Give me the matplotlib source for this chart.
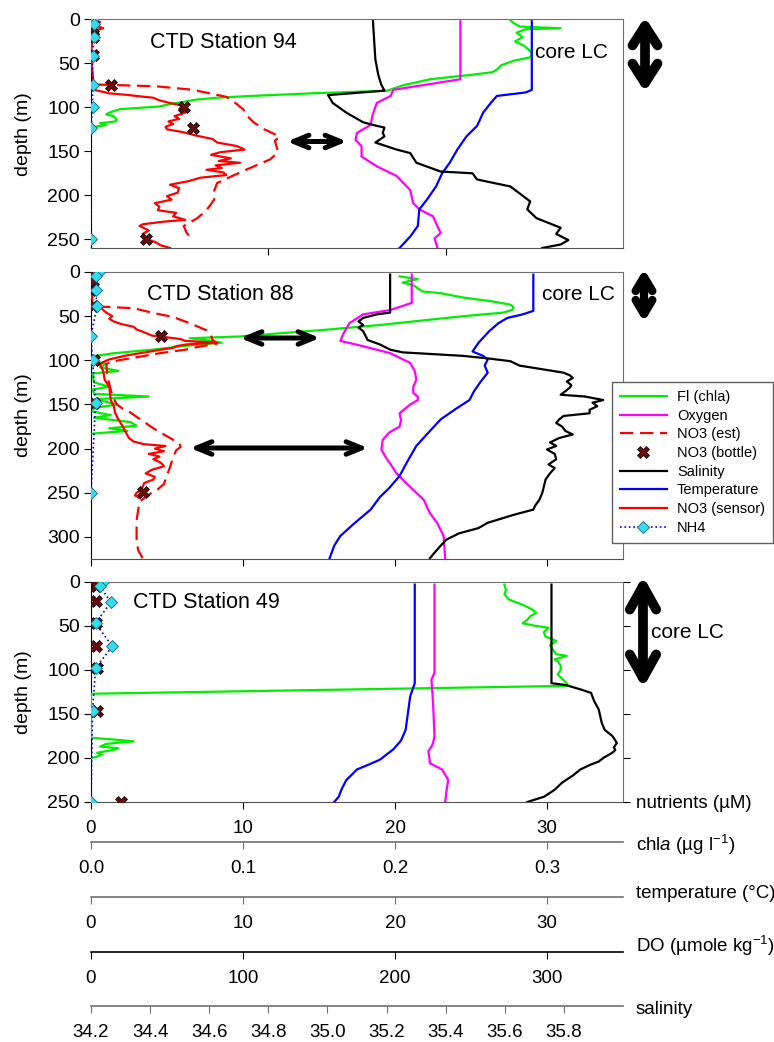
import matplotlib.pyplot as plt
from matplotlib.patches import FancyArrowPatch, ArrowStyle

plt.rcParams['font.family'] = ['Liberation Sans', 'DejaVu Sans']
plt.rcParams['mathtext.fontset'] = 'custom'
plt.rcParams['mathtext.rm'] = 'Liberation Sans'
plt.rcParams['mathtext.it'] = 'Liberation Sans:italic'

W, H = 774, 1042

# scale ranges shared by all three panels
nut_lim = (0, 35)
chl_lim = (0, 0.35)
temp_lim = (0, 35)
do_lim = (0, 350)
sal_lim = (34.2, 36.0)

# ---------------- CTD station 94 ----------------
st94_chl_depth = [1, 4, 8, 10, 11, 15, 20, 25, 30, 36, 40, 43, 47, 52, 57, 60, 63, 68, 75, 81,
                  84, 87, 89, 91, 93, 97, 99, 102, 106, 108, 110, 114, 116, 118, 120, 123]
st94_chl = [0.276, 0.278, 0.282, 0.309, 0.286, 0.280, 0.284, 0.279, 0.285, 0.289, 0.290, 0.289,
            0.278, 0.270, 0.267, 0.264, 0.250, 0.223, 0.205, 0.195, 0.145, 0.105, 0.083, 0.070,
            0.063, 0.050, 0.045, 0.019, 0.012, 0.010, 0.015, 0.017, 0.016, 0.006, 0.010, 0.000]

st94_no3s_depth = [0, 3, 6, 10, 13, 16, 20, 40, 60, 80, 84, 86, 88, 89, 92, 95, 98, 102, 106, 110,
                   113, 116, 119, 122, 125, 128, 132, 136, 140, 144, 148, 151, 154, 158, 161, 163,
                   166, 169, 171, 174, 177, 180, 184, 188, 192, 197, 201, 205, 209, 213, 217, 220,
                   224, 228, 230, 233, 235, 240, 244, 249, 253, 257, 260]
st94_no3s = [0.1, 0.6, 0.2, 0.8, 0.1, 0.5, 0.1, 0.0, 0.1, 0.2, 1.2, 2.5, 3.5, 4.1, 4.5, 5.2, 6.0,
             5.8, 6.2, 5.5, 5.8, 5.1, 5.4, 4.9, 5.0, 6.0, 6.9, 8.0, 8.3, 9.6, 10.1, 8.5, 7.9, 9.2,
             8.4, 9.8, 8.2, 8.6, 7.6, 8.7, 8.9, 7.2, 6.4, 5.2, 5.8, 5.7, 5.0, 5.3, 4.2, 4.5, 4.4,
             5.6, 5.4, 6.2, 4.8, 3.4, 3.2, 3.8, 3.4, 3.5, 4.2, 4.6, 5.2]

st94_no3e_depth = [74, 76, 80, 88, 95, 102, 110, 117, 125, 133, 138, 144, 151, 159, 165, 171, 178,
                   186, 195, 205, 217, 226, 235, 243, 251]
st94_no3e = [0.4, 4.3, 6.7, 8.9, 9.5, 10.0, 10.3, 10.7, 11.4, 12.4, 12.1, 12.2, 12.3, 11.8, 11.0,
             10.2, 9.3, 8.3, 8.1, 8.1, 7.6, 7.0, 6.1, 6.3, 6.7]

st94_bottle_depth = [0, 10, 20, 40, 75, 100, 124, 250]
st94_bottle_no3 = [0.1, 0.1, 0.1, 0.1, 1.3, 6.1, 6.7, 3.6]
st94_nh4_depth = [0, 5, 20, 42, 74, 99, 124, 250]
st94_nh4 = [0.1, 0.2, 0.2, 0.1, 0.1, 0.1, 0.0, 0.0]

st94_sal_depth = [2, 45, 63, 74, 81, 86, 95, 106, 117, 121, 123, 129, 133, 140, 148, 152, 163, 173,
                  175, 182, 190, 207, 216, 226, 237, 244, 251, 256, 260]
st94_sal = [35.154, 35.162, 35.172, 35.182, 35.193, 35.002, 35.018, 35.064, 35.121, 35.167,
            35.193, 35.187, 35.193, 35.162, 35.234, 35.280, 35.301, 35.383, 35.491, 35.506,
            35.619, 35.686, 35.676, 35.707, 35.789, 35.774, 35.815, 35.789, 35.727]

st94_do_depth = [2, 68, 80, 87, 95, 110, 120, 129, 137, 144, 156, 167, 178, 194, 209, 216, 224,
                 243, 249, 260]
st94_do = [243, 243, 199, 197, 188, 185, 184, 175, 174, 178, 178, 188, 201, 210, 212, 216, 225,
           230, 226, 228]

st94_temp_depth = [2, 80, 83, 87, 95, 106, 121, 133, 148, 163, 175, 190, 205, 216, 235, 247, 260]
st94_temp = [29.0, 29.0, 28.6, 26.7, 26.3, 25.8, 25.4, 24.7, 24.1, 23.6, 23.1, 22.7, 22.1, 21.6,
             21.5, 21.0, 20.3]

# ---------------- CTD station 88 ----------------
st88_chl_depth = [5, 8, 10, 12, 14, 16, 22, 24, 29, 33, 37, 40, 43, 46, 50, 54, 60, 65, 70, 73,
                  75, 77, 80, 84, 88, 92, 95, 100, 104, 108, 112, 115, 125, 130, 133, 138, 141,
                  144, 150, 154, 158, 162, 165, 170, 174, 177, 180, 183]
st88_chl = [0.203, 0.215, 0.210, 0.205, 0.210, 0.213, 0.218, 0.230, 0.245, 0.263, 0.276, 0.278,
            0.277, 0.271, 0.245, 0.223, 0.190, 0.157, 0.120, 0.098, 0.065, 0.075, 0.086, 0.060,
            0.040, 0.015, 0.003, 0.001, 0.010, 0.006, 0.018, 0.001, 0.002, 0.012, 0.001, 0.002,
            0.038, 0.003, 0.017, 0.002, 0.001, 0.013, 0.002, 0.026, 0.030, 0.012, 0.024, 0.001]

st88_no3s_depth = [0, 35, 39, 43, 46, 50, 53, 56, 59, 62, 65, 69, 72, 74, 76, 78, 80, 82, 84, 86,
                   88, 90, 92, 95, 99, 102, 105, 112, 122, 130, 137, 145, 152, 160, 167, 175, 182,
                   188, 192, 195, 197, 200, 203, 206, 209, 212, 216, 220, 224, 228, 232, 235, 239,
                   243, 247, 250, 253, 256]
st88_no3s = [0.0, 0.1, 0.6, 0.8, 1.0, 1.4, 1.2, 1.5, 2.0, 2.8, 3.0, 3.6, 4.0, 5.0, 5.9, 6.2, 8.3,
             6.3, 5.6, 5.4, 4.6, 3.9, 3.2, 2.2, 1.2, 0.8, 0.6, 0.8, 0.9, 1.2, 1.25, 1.3, 1.5, 1.6,
             1.8, 2.1, 2.3, 2.5, 2.8, 3.5, 4.9, 4.2, 4.8, 3.8, 4.5, 4.1, 4.6, 4.8, 4.0, 3.6, 4.2,
             4.1, 3.5, 3.4, 3.3, 3.0, 2.9, 3.2]

st88_no3e_depth = [39, 41, 46, 51, 58, 66, 72, 77, 81, 85, 88, 92, 96, 100, 104, 120, 140, 150,
                   155, 158, 164, 171, 177, 183, 188, 194, 198, 202, 210, 221, 230, 240, 246, 251,
                   256, 260, 270, 281, 295, 304, 315, 324]
st88_no3e = [0.4, 2.8, 4.0, 5.4, 6.5, 7.6, 7.9, 8.0, 8.3, 7.0, 6.2, 4.5, 3.2, 1.8, 1.0, 1.1, 1.4,
             1.7, 2.1, 2.5, 3.0, 3.6, 4.1, 4.7, 5.2, 5.8, 5.9, 5.6, 5.4, 5.2, 5.0, 4.8, 4.4, 3.9,
             3.5, 3.2, 3.1, 3.0, 3.0, 3.0, 3.1, 3.4]

st88_bottle_depth = [0, 10, 20, 38, 72, 100, 148, 249]
st88_bottle_no3 = [0.1, 0.1, 0.0, 0.1, 4.6, 0.2, 0.2, 3.4]
st88_nh4_depth = [0, 5, 20, 38, 72, 100, 148, 250]
st88_nh4 = [0.5, 0.3, 0.3, 0.4, 0.0, 0.1, 0.3, 0.0]

st88_sal_depth = [3, 46, 48, 52, 56, 60, 63, 67, 77, 82, 88, 91, 95, 98, 101, 106, 114, 117, 120,
                  124, 128, 131, 135, 139, 141, 145, 148, 152, 156, 160, 163, 167, 171, 175, 180,
                  184, 188, 193, 197, 201, 206, 212, 218, 222, 228, 235, 242, 250, 258, 265, 269,
                  275, 284, 290, 296, 303, 310, 318, 324]
st88_sal = [35.212, 35.212, 35.167, 35.121, 35.105, 35.121, 35.105, 35.121, 35.136, 35.177,
            35.213, 35.254, 35.460, 35.547, 35.619, 35.650, 35.799, 35.820, 35.830, 35.810,
            35.825, 35.820, 35.805, 35.789, 35.871, 35.933, 35.897, 35.913, 35.887, 35.887,
            35.799, 35.784, 35.774, 35.794, 35.805, 35.830, 35.784, 35.753, 35.774, 35.743,
            35.769, 35.774, 35.748, 35.769, 35.753, 35.738, 35.733, 35.727, 35.717, 35.702,
            35.697, 35.630, 35.542, 35.511, 35.445, 35.403, 35.383, 35.362, 35.347]

st88_do_depth = [3, 35, 43, 48, 58, 70, 78, 84, 92, 103, 112, 122, 130, 137, 141, 145, 150, 160,
                 168, 175, 182, 190, 201, 210, 220, 228, 240, 250, 258, 266, 273, 285, 299, 324]
st88_do = [211, 211, 197, 179, 170, 166, 164, 179, 197, 210, 213, 214, 212, 212, 215, 215, 210,
           203, 204, 203, 196, 192, 191, 194, 198, 201, 208, 214, 219, 221, 223, 228, 232, 233]

st88_temp_depth = [3, 44, 48, 52, 58, 67, 80, 90, 95, 99, 106, 114, 125, 135, 145, 155, 167, 180,
                   197, 215, 231, 245, 255, 269, 285, 299, 310, 324]
st88_temp = [29.1, 29.1, 28.4, 27.4, 26.8, 26.2, 25.5, 25.1, 25.8, 26.1, 25.9, 26.1, 25.6, 25.2,
             24.9, 24.0, 23.0, 22.3, 21.4, 20.8, 20.3, 19.6, 19.0, 18.4, 17.3, 16.4, 16.0, 15.7]

# ---------------- CTD station 49 ----------------
st49_chl_depth = [3, 9, 14, 20, 26, 31, 35, 39, 43, 47, 50, 52, 57, 62, 67, 72, 77, 82, 84, 88,
                  90, 95, 100, 105, 110, 115, 118, 127, 150, 177, 179, 181, 184, 187, 189, 191,
                  194, 196, 199, 200]
st49_chl = [0.272, 0.273, 0.272, 0.275, 0.284, 0.290, 0.293, 0.289, 0.287, 0.284, 0.293, 0.301,
            0.298, 0.299, 0.306, 0.302, 0.304, 0.306, 0.313, 0.305, 0.307, 0.309, 0.309, 0.307,
            0.310, 0.313, 0.314, 0.000, 0.000, 0.000, 0.015, 0.028, 0.010, 0.006, 0.018, 0.014,
            0.004, 0.007, 0.003, 0.000]

st49_bottle_depth = [0, 5, 22, 47, 73, 98, 147, 250]
st49_bottle_no3 = [0.3, 0.3, 0.3, 0.3, 0.3, 0.4, 0.4, 2.0]
st49_nh4_depth = [0, 5, 23, 47, 73, 98, 147, 250]
st49_nh4 = [0.8, 0.6, 1.3, 0.3, 1.4, 0.3, 0.1, 0.0]

st49_sal_depth = [3, 115, 117, 122, 126, 135, 145, 160, 168, 175, 180, 183, 188, 191, 194, 200,
                  204, 208, 213, 220, 228, 236, 244, 250]
st49_sal = [35.758, 35.758, 35.805, 35.856, 35.892, 35.902, 35.918, 35.928, 35.938, 35.964,
            35.974, 35.979, 35.969, 35.974, 35.964, 35.933, 35.918, 35.887, 35.856, 35.830,
            35.794, 35.769, 35.733, 35.676]

st49_do_depth = [3, 103, 111, 137, 175, 183, 187, 192, 206, 213, 225, 236, 250]
st49_do = [226, 226, 224, 225, 226, 225, 224, 222, 223, 231, 235, 234, 233]

st49_temp_depth = [3, 115, 130, 168, 180, 190, 202, 208, 213, 220, 225, 235, 244, 250]
st49_temp = [21.3, 21.3, 21.0, 20.7, 20.4, 19.9, 19.0, 18.2, 17.5, 17.1, 16.8, 16.5, 16.3, 16.0]

# tick values of the stacked scales under the bottom panel
nut_ticks = [0, 10, 20, 30]
chl_ticks = [0.0, 0.1, 0.2, 0.3]
temp_ticks = [0, 10, 20, 30]
do_ticks = [0, 100, 200, 300]
sal_ticks = [34.2, 34.4, 34.6, 34.8, 35.0, 35.2, 35.4, 35.6, 35.8]

GREEN = '#00ee00'
MAGENTA = '#ff00ff'
RED = '#ff0000'
BLUE = '#0000ff'
BOTTLE = '#6b0a0a'
NH4C = '#33ddee'
LW = 1.6


def fx(x):
    return x / W


def fy(y):
    return 1 - y / H


def make_panel(top, bottom, ymax, yticks):
    ax = fig.add_axes([fx(91), fy(bottom), (623 - 91) / W, (bottom - top) / H])
    ax.set_xlim(nut_lim)
    ax.set_ylim(ymax, 0)
    ax.set_yticks(yticks)
    ax.tick_params(axis='y', direction='out', length=5, pad=3, labelsize=14)
    ax.tick_params(axis='x', direction='out', length=5, labelbottom=False)
    ax.spines['left'].set_color('black')
    for s in ['top', 'right']:
        ax.spines[s].set_color('#707070')
    ax.spines['bottom'].set_color('#505050')
    ax.set_ylabel('depth (m)', fontsize=14)
    ax.yaxis.set_label_coords(-0.11, 0.5)
    # one overlay per quantity, each with its own x scale
    tw = {}
    for key, lim in [('chl', chl_lim), ('do', do_lim), ('temp', temp_lim),
                     ('sal', sal_lim), ('nut', nut_lim)]:
        t = ax.twiny()
        t.set_xlim(lim)
        t.set_axis_off()
        tw[key] = t
    return ax, tw


def profile(tw, nut=None, chl=None, do=None, temp=None, sal=None):
    h = {}
    if chl:
        h['chl'], = tw['chl'].plot(chl[1], chl[0], color=GREEN, lw=LW)
    if do:
        h['do'], = tw['do'].plot(do[1], do[0], color=MAGENTA, lw=LW)
    if temp:
        h['temp'], = tw['temp'].plot(temp[1], temp[0], color=BLUE, lw=LW)
    if sal:
        h['sal'], = tw['sal'].plot(sal[1], sal[0], color='black', lw=LW)
    t = tw['nut']
    if 'est' in nut:
        h['est'], = t.plot(nut['est'][1], nut['est'][0], color=RED, lw=LW, dashes=(6, 3))
    if 'sensor' in nut:
        h['sensor'], = t.plot(nut['sensor'][1], nut['sensor'][0], color=RED, lw=LW)
    h['bottle'], = t.plot(nut['bottle'][1], nut['bottle'][0], ls='none', marker='X',
                          ms=8.5, mfc=BOTTLE, mec='black', mew=0.5)
    h['nh4'], = t.plot(nut['nh4'][1], nut['nh4'][0], color=BLUE, lw=1.2, ls=':',
                       marker='D', ms=6.5, mfc=NH4C, mec='#116677', mew=0.6)
    return h


def double_arrow(x0, y0, x1, y1, lw, hl, hw):
    style = ArrowStyle('<->', head_length=hl, head_width=hw)
    arr = FancyArrowPatch((fx(x0), fy(y0)), (fx(x1), fy(y1)), transform=fig.transFigure,
                          arrowstyle=style, mutation_scale=1, lw=lw, color='black',
                          capstyle='round', joinstyle='round', shrinkA=0, shrinkB=0)
    fig.add_artist(arr)


fig = plt.figure(figsize=(W / 100, H / 100), dpi=100)

# station 94
ax1, tw1 = make_panel(19.5, 248, 260, [0, 50, 100, 150, 200, 250])
ax1.set_xticks([nut_lim[1] / 3, 2 * nut_lim[1] / 3])
h94 = profile(tw1,
              nut={'est': (st94_no3e_depth, st94_no3e), 'sensor': (st94_no3s_depth, st94_no3s),
                   'nh4': (st94_nh4_depth, st94_nh4), 'bottle': (st94_bottle_depth, st94_bottle_no3)},
              chl=(st94_chl_depth, st94_chl), do=(st94_do_depth, st94_do),
              temp=(st94_temp_depth, st94_temp), sal=(st94_sal_depth, st94_sal))

# station 88
ax2, tw2 = make_panel(272, 559, 325, [0, 50, 100, 150, 200, 250, 300])
ax2.set_xticks(nut_ticks)
profile(tw2,
        nut={'est': (st88_no3e_depth, st88_no3e), 'sensor': (st88_no3s_depth, st88_no3s),
             'nh4': (st88_nh4_depth, st88_nh4), 'bottle': (st88_bottle_depth, st88_bottle_no3)},
        chl=(st88_chl_depth, st88_chl), do=(st88_do_depth, st88_do),
        temp=(st88_temp_depth, st88_temp), sal=(st88_sal_depth, st88_sal))

# station 49
ax3, tw3 = make_panel(582, 802, 250, [0, 50, 100, 150, 200, 250])
ax3.set_xticks(nut_ticks)
ax3.tick_params(axis='x', labelbottom=True, labelsize=13.5, pad=8)
ax3.tick_params(axis='y', right=True, which='both')
profile(tw3,
        nut={'nh4': (st49_nh4_depth, st49_nh4), 'bottle': (st49_bottle_depth, st49_bottle_no3)},
        chl=(st49_chl_depth, st49_chl), do=(st49_do_depth, st49_do),
        temp=(st49_temp_depth, st49_temp), sal=(st49_sal_depth, st49_sal))

# stacked scales for the other quantities
for y, lim, ticks, fmt, col in [(842, chl_lim, chl_ticks, '%.1f', '#707070'),
                                (897, temp_lim, temp_ticks, '%d', '#707070'),
                                (952, do_lim, do_ticks, '%d', 'black'),
                                (1006, sal_lim, sal_ticks, '%.1f', '#707070')]:
    sa = fig.add_axes([fx(91), fy(y), (623 - 91) / W, 0.0001])
    sa.patch.set_visible(False)
    for s in ['left', 'right', 'top']:
        sa.spines[s].set_visible(False)
    sa.spines['bottom'].set_color(col)
    sa.spines['bottom'].set_linewidth(1.2)
    sa.set_xlim(lim)
    sa.set_yticks([])
    sa.set_xticks(ticks)
    sa.set_xticklabels([fmt % t for t in ticks])
    sa.tick_params(axis='x', direction='out', length=5, color=col, labelsize=13.5, pad=8)

for y, txt in [(803, 'nutrients (µM)'), (845, r'chl$\it{a}$ (µg l$^{-1}$)'),
               (893, 'temperature (°C)'), (946, r'DO (µmole kg$^{-1}$)'), (1010, 'salinity')]:
    fig.text(fx(636), fy(y), txt, fontsize=13.5, va='center', ha='left')

# station names and core markers
for x, y, txt in [(150, 43, 'CTD Station 94'), (147, 295, 'CTD Station 88'),
                  (133, 603, 'CTD Station 49')]:
    fig.text(fx(x), fy(y), txt, fontsize=15.5, va='center', ha='left')
for x, y in [(535, 52), (542, 294), (651, 632)]:
    fig.text(fx(x), fy(y), 'core LC', fontsize=15, va='center', ha='left')

double_arrow(645, 17, 645, 92, 7.0, 14, 9)
double_arrow(644, 269, 644, 322, 6.0, 10, 6)
double_arrow(643, 576, 643, 688, 7.0, 17, 9.5)
double_arrow(287, 141.5, 347, 141.5, 3.6, 11, 4.5)
double_arrow(240, 338, 320, 338, 3.6, 11, 4.5)
double_arrow(190, 448, 368, 448, 3.6, 11, 4.5)

handles = [h94['chl'], h94['do'], h94['est'], h94['bottle'], h94['sal'], h94['temp'],
           h94['sensor'], h94['nh4']]
labels = ['Fl (chla)', 'Oxygen', 'NO3 (est)', 'NO3 (bottle)', 'Salinity', 'Temperature',
          'NO3 (sensor)', 'NH4']
leg = fig.legend(handles, labels, loc='upper left', bbox_to_anchor=(fx(612), fy(382)),
                 fontsize=10.5, handlelength=3.2, labelspacing=0.32, handletextpad=0.7,
                 borderpad=0.55, borderaxespad=0, fancybox=False, framealpha=1)
leg.get_frame().set_edgecolor('#606060')
leg.get_frame().set_linewidth(1.0)

fig.savefig('out.png', dpi=100)
